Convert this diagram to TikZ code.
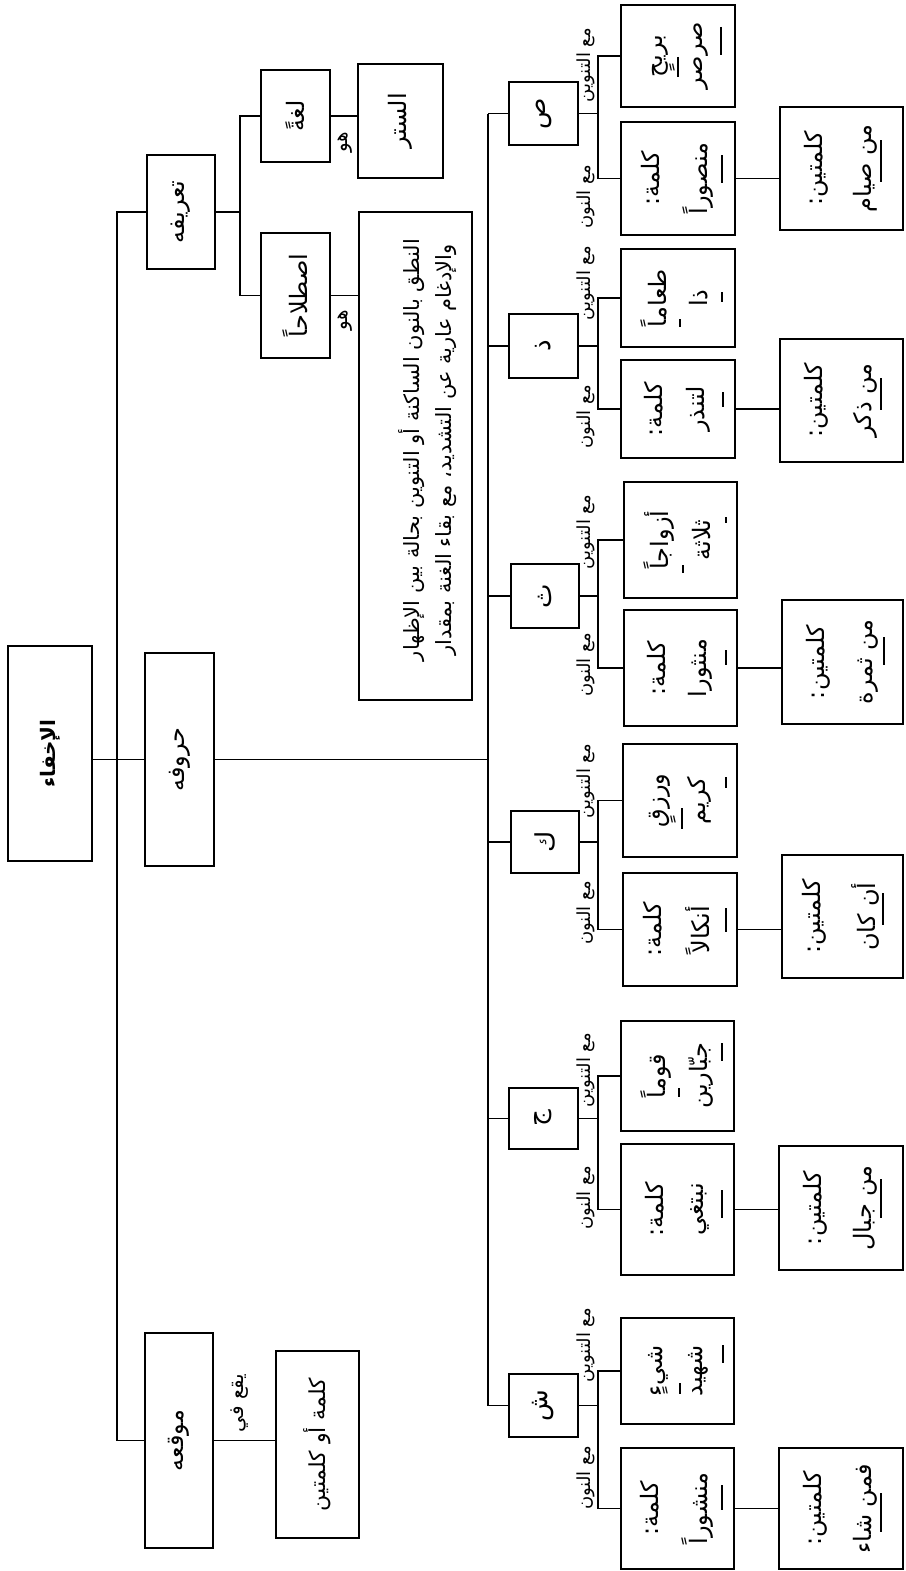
\documentclass[tikz,border=0pt]{standalone}
\usepackage{fontspec}
\usepackage{graphicx}
\newfontfamily\arabicfont[Script=Arabic]{DejaVu Sans}
\TeXXeTstate=1
\newcommand{\rone}[1]{\rotatebox{90}{\arabicfont #1}}
\newcommand{\rtwo}[3]{\rotatebox{90}{\arabicfont\begin{tabular}{@{}c@{}}#1\\[#3]#2\end{tabular}}}
\newcommand{\rbox}[7][]{\node[box,#1,minimum width={#5-#3},minimum height={#6-#4}] (#2) at ({(#3+#5)/2},{(#4+#6)/2}) {#7};}
\newcommand{\fs}[1]{\fontsize{#1}{#1}\selectfont}
\begin{document}
\begin{tikzpicture}[x=1pt,y=-1pt,
  box/.style={draw,line width=1.8pt,inner sep=0pt,rectangle,font=\fs{24}},
  con/.style={line width=1.7pt},
  bar/.style={line width=2.6pt},
  lbl/.style={inner sep=0pt,font=\fs{18}},
  deffont/.style={inner sep=0pt,font=\fs{21}}]
\useasboundingbox (0,0) rectangle (905,1571);
% top levels
\rbox[font=\fs{20}\bfseries]{root}{8}{646}{92}{861}{\rone{\beginR الإخفاء\endR}}
\rbox{taarif}{147}{155}{215}{269}{\rone{\beginR تعريفه\endR}}
\rbox{hur}{145}{653}{214}{866}{\rone{\beginR حروفه\endR}}
\rbox{mawqi}{145}{1333}{213}{1548}{\rone{\beginR موقعه\endR}}
\rbox{lugha}{261}{70}{330}{162}{\rone{\beginR لغةً\endR}}
\rbox{istilah}{261}{233}{330}{358}{\rone{\beginR اصطلاحاً\endR}}
\rbox{sitr}{358}{64}{443}{178}{\rone{\beginR الستر\endR}}
\rbox{def}{359}{212}{472}{700}{}
\node[deffont,rotate=90] (deftext) at (428,450) {\arabicfont\begin{tabular}{@{}c@{}}\beginR النطق بالنون الساكنة أو التنوين بحالة بين الإظهار\endR\\[10pt]\beginR والإدغام عارية عن التشديد، مع بقاء الغنة بمقدار\endR\end{tabular}};
\rbox[font=\fs{22}]{kk}{276}{1351}{359}{1538}{\rone{\beginR كلمة أو كلمتين\endR}}
\node[lbl,rotate=90,font=\fs{20}] (huwa1) at (345,142) {\arabicfont\beginR هو\endR};
\node[lbl,rotate=90,font=\fs{20}] (huwa2) at (345,320) {\arabicfont\beginR هو\endR};
\node[lbl,rotate=90,font=\fs{20}] (yaqa) at (240,1403) {\arabicfont\beginR يقع في\endR};
\coordinate (spine) at (117,0);
\coordinate (tj) at (240,0);
\draw[con] (taarif.west) -- (taarif.west -| spine) -- (mawqi.west -| spine) -- (mawqi.west);
\draw[con] (root.east |- hur.west) -- (hur.west);
\draw[con] (taarif.east) -- (taarif.east -| tj);
\draw[con] (lugha.west) -- (lugha.west -| tj) -- (istilah.west -| tj) -- (istilah.west);
\draw[con] (lugha.east) -- (lugha.east -| sitr.west);
\draw[con] (istilah.east) -- (istilah.east -| def.west);
\draw[con] (mawqi.east) -- (mawqi.east -| kk.west);
% letters
\rbox[font=\fs{26}]{sad}{509}{82}{578}{145}{\rone{ص}}
\rbox[font=\fs{26}]{dhal}{509}{314}{578}{378}{\rone{ذ}}
\rbox[font=\fs{26}]{tha}{511}{564}{579}{628}{\rone{ث}}
\rbox[font=\fs{26}]{kaf}{511}{811}{579}{873}{\rone{ك}}
\rbox[font=\fs{26}]{jim}{509}{1088}{578}{1149}{\rone{ج}}
\rbox[font=\fs{26}]{shin}{509}{1374}{578}{1437}{\rone{ش}}
\coordinate (bus) at (488,0);
\coordinate (spl) at (598,0);
\draw[con] (sad.west -| bus) -- (shin.west -| bus);
\draw[con] (hur.east) -- (hur.east -| bus);
% examples
\rbox{sadT}{621}{5}{735}{107}{\rtwo{\beginR بريحٍ\endR}{\beginR صرصر\endR}{16pt}}
\rbox{sadB}{621}{122}{735}{235}{\rtwo{\beginR كلمة:\endR}{\beginR منصوراً\endR}{16pt}}
\rbox{sadF}{780}{107}{903}{230}{\rtwo{\beginR كلمتين:\endR}{\beginR من صيام\endR}{24pt}}
\rbox{dhalT}{621}{249}{735}{347}{\rtwo{\beginR طعاماً\endR}{\beginR ذا\endR}{16pt}}
\rbox{dhalB}{621}{360}{735}{458}{\rtwo{\beginR كلمة:\endR}{\beginR لتنذر\endR}{16pt}}
\rbox{dhalF}{780}{339}{903}{462}{\rtwo{\beginR كلمتين:\endR}{\beginR من ذكر\endR}{24pt}}
\rbox{thaT}{624}{482}{737}{598}{\rtwo{\beginR أزواجاً\endR}{\beginR ثلاثة\endR}{16pt}}
\rbox{thaB}{624}{610}{737}{726}{\rtwo{\beginR كلمة:\endR}{\beginR منثورا\endR}{16pt}}
\rbox{thaF}{782}{600}{903}{724}{\rtwo{\beginR كلمتين:\endR}{\beginR من ثمرة\endR}{24pt}}
\rbox{kafT}{623}{744}{737}{857}{\rtwo{\beginR ورزقٍ\endR}{\beginR كريم\endR}{16pt}}
\rbox{kafB}{623}{873}{737}{986}{\rtwo{\beginR كلمة:\endR}{\beginR أنكالاً\endR}{16pt}}
\rbox{kafF}{782}{855}{903}{978}{\rtwo{\beginR كلمتين:\endR}{\beginR أن كان\endR}{24pt}}
\rbox{jimT}{621}{1021}{734}{1131}{\rtwo{\beginR قوماً\endR}{\beginR جبّارين\endR}{16pt}}
\rbox{jimB}{621}{1144}{734}{1275}{\rtwo{\beginR كلمة:\endR}{\beginR نبتغي\endR}{16pt}}
\rbox{jimF}{779}{1146}{903}{1270}{\rtwo{\beginR كلمتين:\endR}{\beginR من جبال\endR}{24pt}}
\rbox{shinT}{621}{1318}{734}{1424}{\rtwo{\beginR شيءٍ\endR}{\beginR شهيد\endR}{16pt}}
\rbox{shinB}{621}{1448}{734}{1569}{\rtwo{\beginR كلمة:\endR}{\beginR منشوراً\endR}{16pt}}
\rbox{shinF}{779}{1448}{903}{1569}{\rtwo{\beginR كلمتين:\endR}{\beginR فمن شاء\endR}{24pt}}
\foreach \n in {sad,dhal,tha,kaf,jim,shin}{
  \draw[con] (\n.west) -- (\n.west -| bus);
  \draw[con] (\n.east) -- (\n.east -| spl);
  \draw[con] (\n T.west) -- (\n T.west -| spl) -- (\n B.west -| spl) -- (\n B.west);
  \draw[con] (\n B.east) -- (\n B.east -| \n F.west);
}
% labels
\foreach \n/\a/\b in {sad/65/197,dhal/283/417,tha/532/665,kaf/781/913,jim/1070/1198,shin/1345/1478}{
  \node[lbl,rotate=90] (\n Tl) at (586,\a) {\arabicfont\beginR مع التنوين\endR};
  \node[lbl,rotate=90] (\n Bl) at (586,\b) {\arabicfont\beginR مع النون\endR};
}
% underline marks
\foreach \x/\a/\b in {678/57/77,721/27/55,722/155/183,881/140/182,
  722/292/302,680/319/327,723/392/407,881/378/410,
  683/565/573,726/517/523,726/650/665,884/637/665,
  682/808/829,726/777/788,726/908/932,883/893/925,
  679/1088/1097,722/1043/1061,722/1190/1218,881/1179/1218,
  680/1383/1394,723/1345/1363,722/1485/1510,881/1493/1532}{
  \draw[bar] (\x,\a) -- (\x,\b);
}
\end{tikzpicture}
\end{document}
